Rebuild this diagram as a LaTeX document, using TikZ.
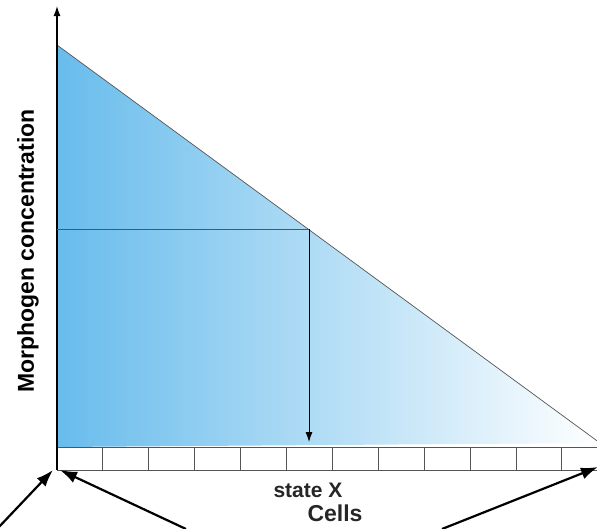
\documentclass[tikz,border=0pt]{standalone}
\usepackage{fontspec}
\setmainfont{Liberation Sans}
\usetikzlibrary{arrows.meta}
\definecolor{morphblue}{RGB}{104,188,236}
\definecolor{edgegrey}{RGB}{85,85,85}
\tikzset{
	cellline/.style={draw=edgegrey, line width=0.9pt},
	pointer/.style={-{Latex[length=17pt,width=12pt]}, line width=2.2pt},
	labeltext/.style={font=\bfseries\fontsize{#1}{#1}\selectfont, inner sep=0pt}
}
\begin{document}
\begin{tikzpicture}[x=1pt,y=-1pt]
\useasboundingbox (0,0) rectangle (597,528);
\coordinate (top) at (57,45);
\coordinate (origin) at (57,447);
\coordinate (corner) at (600,443);
\shade[left color=morphblue, right color=white] (top) -- (origin) -- (corner) -- cycle;
\draw[edgegrey, line width=0.7pt] (top) -- (corner);
% cells
\draw[cellline] (57,447) -- (597,447);
\draw[cellline] (57,470) -- (597,470);
\foreach \i in {0,1,...,11}
{
	\draw[cellline] ({57+45.9*\i},447) -- ({57+45.9*\i},470);
}
% axis
\coordinate (axisfoot) at (57,470);
\coordinate (axistip) at (57,6);
\draw[-{Latex[length=10pt,width=7pt]}, line width=1.3pt] (axisfoot) -- (axistip);
% reading the level
\coordinate (levelstart) at (57,229);
\coordinate (level) at (309,229);
\coordinate (stateX) at (309,442);
\draw[edgegrey, line width=0.9pt] (levelstart) -- (level);
\draw[-{Latex[length=10pt,width=7pt]}, line width=0.9pt] (level) -- (stateX);
\node[labeltext=23, rotate=90] (ylabel) at (28,251) {Morphogen concentration};
\node[labeltext=21, text=black!85] (statelabel) at (308,490) {state X};
\node[labeltext=23, text=black!85] (cells) at (335,513) {Cells};
% pointers to first and last cell
\coordinate (firstcell) at (53,470);
\coordinate (firstcellb) at (60,470);
\coordinate (lastcell) at (598,467);
\coordinate (fromleft) at (-2,528);
\coordinate (fromcellsl) at (186,529);
\coordinate (fromcellsr) at (442,529);
\draw[pointer] (fromleft) -- (firstcell);
\draw[pointer] (fromcellsl) -- (firstcellb);
\draw[pointer] (fromcellsr) -- (lastcell);
\end{tikzpicture}
\end{document}
